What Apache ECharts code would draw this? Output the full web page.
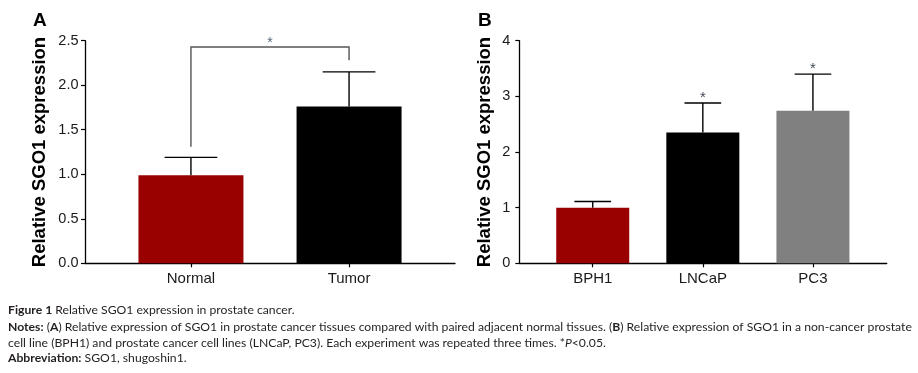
<!DOCTYPE html>
<html>
<head>
<meta charset="utf-8">
<script src="https://cdn.jsdelivr.net/npm/echarts@6/dist/echarts.min.js"></script>
<style>
  html, body { margin: 0; padding: 0; background: #fff; }
  #chart { width: 918px; height: 373px; }
</style>
</head>
<body>
<div id="chart"></div>
<script>
// ---- data ----
const categoriesA = ['Normal', 'Tumor'];
const meanA = [0.99, 1.76];
const errTopA = [1.19, 2.15];
const colorsA = ['#990000', '#000000'];
const yTicksA = [0, 0.5, 1.0, 1.5, 2.0, 2.5];
// significance bracket in A: [left foot, top level, right foot, star level]
const bracketA = [1.31, 2.43, 2.28, 2.47];

const categoriesB = ['BPH1', 'LNCaP', 'PC3'];
const meanB = [1.0, 2.35, 2.74];
const errTopB = [1.11, 2.88, 3.40];
const colorsB = ['#990000', '#000000', '#808080'];
const yTicksB = [0, 1, 2, 3, 4];
const starsB = ['', '*', '*'];
const starLevelB = [null, 2.97, 3.49];

const captionLines = [
  '{b|Figure 1} Relative SGO1 expression in prostate cancer.',
  '{b|Notes:} ({b|A}) Relative expression of SGO1 in prostate cancer tissues compared with paired adjacent normal tissues. ({b|B}) Relative expression of SGO1 in a non-cancer prostate',
  'cell line (BPH1) and prostate cancer cell lines (LNCaP, PC3). Each experiment was repeated three times. *{i|P}<0.05.',
  '{b|Abbreviation:} SGO1, shugoshin1.'
];

// ---- chart ----
const FONT = 'Liberation Sans, Arial, sans-serif';
const CAPFONT = 'Lato, "Open Sans", sans-serif';
const CAPSIZE = 12.2;
const chart = echarts.init(document.getElementById('chart'), null, { renderer: 'canvas' });

function xAxisFor(cats, min, max, gridIndex) {
  const vals = cats.map((c, i) => i + 1);
  return {
    type: 'value', gridIndex, min, max,
    splitLine: { show: false },
    axisLine: { show: true, onZero: false, lineStyle: { color: '#000', width: 1.3 } },
    axisTick: { show: true, customValues: vals, length: 4, lineStyle: { color: '#000', width: 1.2 } },
    axisLabel: { show: true, customValues: vals, margin: 8, fontSize: 15, color: '#1a1a1a', fontFamily: FONT,
      formatter: v => cats[Math.round(v) - 1] || '' }
  };
}
function yAxisFor(ticks, gridIndex, decimals, nameGap, labelMargin) {
  return {
    type: 'value', gridIndex, min: ticks[0], max: ticks[ticks.length - 1],
    interval: ticks[1] - ticks[0],
    name: 'Relative SGO1 expression', nameLocation: 'middle', nameGap,
    nameTextStyle: { fontSize: 18.5, fontWeight: 'bold', color: '#000', fontFamily: FONT },
    splitLine: { show: false },
    axisLine: { show: true, onZero: false, lineStyle: { color: '#000', width: 1.3 } },
    axisTick: { show: true, length: 4, lineStyle: { color: '#000', width: 1.2 } },
    axisLabel: { margin: labelMargin, fontSize: 14.5, color: '#1a1a1a', fontFamily: FONT,
      formatter: v => Number(v).toFixed(decimals) }
  };
}

function errorSeries(means, tops, axisIndex) {
  return {
    type: 'custom', xAxisIndex: axisIndex, yAxisIndex: axisIndex, z: 5,
    data: means.map((m, i) => [i + 1, m, tops[i]]),
    renderItem: (params, api) => {
      const x = api.value(0), m = api.value(1), e = api.value(2);
      const pTop = api.coord([x, e]);
      const pBot = api.coord([x, m]);
      const half = api.size([1, 0])[0] / 6;
      const st = { stroke: '#000', lineWidth: 1.4 };
      return { type: 'group', children: [
        { type: 'line', shape: { x1: pTop[0], y1: pBot[1], x2: pTop[0], y2: pTop[1] }, style: st },
        { type: 'line', shape: { x1: pTop[0] - half, y1: pTop[1], x2: pTop[0] + half, y2: pTop[1] }, style: st }
      ]};
    }
  };
}

const option = {
  animation: false,
  backgroundColor: '#fff',
  grid: [
    { left: 85, top: 40.7, right: 463, bottom: 109.7 },
    { left: 519.3, top: 40.7, right: 31.3, bottom: 109.7 }
  ],
  xAxis: [ xAxisFor(categoriesA, 0.33, 2.67, 0), xAxisFor(categoriesB, 0.333, 3.67, 1) ],
  yAxis: [ yAxisFor(yTicksA, 0, 1, 36, 6.5), yAxisFor(yTicksB, 1, 0, 25, 9) ],
  series: [
    { type: 'bar', xAxisIndex: 0, yAxisIndex: 0, barWidth: 105,
      data: meanA.map((v, i) => ({ value: [i + 1, v], itemStyle: { color: colorsA[i] } })) },
    { type: 'bar', xAxisIndex: 1, yAxisIndex: 1, barWidth: 73,
      data: meanB.map((v, i) => ({ value: [i + 1, v], itemStyle: { color: colorsB[i] } })) },
    errorSeries(meanA, errTopA, 0),
    errorSeries(meanB, errTopB, 1),
    { // significance bracket A
      type: 'custom', xAxisIndex: 0, yAxisIndex: 0, z: 6,
      data: [[1, 2].concat(bracketA)],
      renderItem: (params, api) => {
        const x1 = api.value(0), x2 = api.value(1);
        const a = api.coord([x1, api.value(2)]);
        const b = api.coord([x1, api.value(3)]);
        const c = api.coord([x2, api.value(3)]);
        const d = api.coord([x2, api.value(4)]);
        const s = api.coord([(x1 + x2) / 2, api.value(5)]);
        return { type: 'group', children: [
          { type: 'polyline', shape: { points: [a, b, c, d] }, style: { stroke: '#555', lineWidth: 1.4, fill: null } },
          { type: 'text', x: s[0], y: s[1], style: { text: '*', fontSize: 14, fill: '#556677', fontFamily: FONT, align: 'center', verticalAlign: 'middle' } }
        ]};
      }
    },
    { // stars B
      type: 'custom', xAxisIndex: 1, yAxisIndex: 1, z: 6,
      data: starsB.map((s, i) => [i + 1, starLevelB[i] == null ? 0 : starLevelB[i], s]).filter(d => d[2]),
      renderItem: (params, api) => {
        const p = api.coord([api.value(0), api.value(1)]);
        return { type: 'text', x: p[0], y: p[1], style: { text: '*', fontSize: 15, fill: '#444a55', fontFamily: FONT, align: 'center', verticalAlign: 'middle' } };
      }
    }
  ],
  graphic: [
    { type: 'text', left: 33, top: 11, style: { text: 'A', fontSize: 19, fontWeight: 'bold', fill: '#000', fontFamily: FONT } },
    { type: 'text', left: 478, top: 11, style: { text: 'B', fontSize: 19, fontWeight: 'bold', fill: '#000', fontFamily: FONT } }
  ].concat(captionLines.map((t, i) => ({
    type: 'text', x: 8, y: [310, 327, 343, 358][i],
    style: {
      text: t, fontSize: CAPSIZE, fill: '#231f20', fontFamily: CAPFONT, verticalAlign: 'middle',
      rich: {
        b: { fontWeight: 'bold', fontSize: CAPSIZE, fontFamily: CAPFONT, fill: '#231f20' },
        i: { fontStyle: 'italic', fontSize: CAPSIZE, fontFamily: CAPFONT, fill: '#231f20' }
      }
    }
  })))
};
chart.setOption(option);
</script>
</body>
</html>
